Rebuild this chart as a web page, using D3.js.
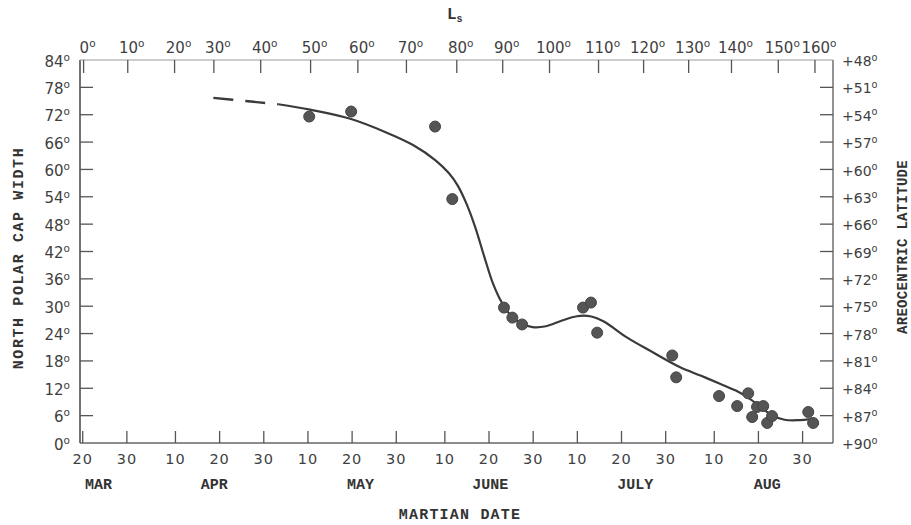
<!DOCTYPE html>
<html>
<head>
<meta charset="utf-8">
<script src="https://cdn.jsdelivr.net/npm/d3@7"></script>
<style>
  body { margin: 0; background: #fff; }
  .num { font-family: "DejaVu Sans", sans-serif; fill: #3f3f3f; }
  .type { font-family: "Liberation Mono", "Courier New", monospace; fill: #333; }
</style>
</head>
<body>
<svg id="chart" width="911" height="525"></svg>
<script>
// Martian date axis: day count after MAR 20
var dateLabels = ['20','30','10','20','30','10','20','30','10','20','30','10','20','30','10','20','30'];
var dateDays   = [0, 10, 21, 31, 41, 51, 61, 71, 82, 92, 102, 112, 122, 132, 143, 153, 163];
var monthLabels = ['MAR', 'APR', 'MAY', 'JUNE', 'JULY', 'AUG'];
var monthDays   = [3.7, 29.9, 63.0, 92.4, 125.2, 155.1];

// Ls (top axis) and the date each tick falls on
var lsLabels = ['0','10','20','30','40','50','60','70','80','90','100','110','120','130','140','150','160'];
var lsDays   = [0.2, 10.2, 20.8, 29.7, 40.3, 51.6, 62.3, 73.3, 84.7, 95.1, 105.7, 116.8, 127.0, 137.2, 146.9, 157.5, 165.8];

// left: cap width, right: areocentric latitude
var widthTicks = [0, 6, 12, 18, 24, 30, 36, 42, 48, 54, 60, 66, 72, 78, 84];
var latTicks   = [90, 87, 84, 81, 78, 75, 72, 69, 66, 63, 60, 57, 54, 51, 48];

// observed cap widths
var obsDay   = [51.4, 60.9, 79.9, 83.8, 95.5, 97.4, 99.6, 113.4, 115.2, 116.6, 133.6, 134.5,
                144.2, 148.3, 150.8, 151.7, 152.8, 154.2, 155.1, 156.2, 164.4, 165.5];
var obsWidth = [71.6, 72.7, 69.4, 53.5, 29.7, 27.5, 26.0, 29.7, 30.8, 24.2, 19.2, 14.4,
                10.3, 8.1, 10.9, 5.7, 7.9, 8.1, 4.4, 5.9, 6.8, 4.4];

// fitted curve (dashed start, then solid)
var dashDay   = [29.7, 37.0, 44.4];
var dashWidth = [75.7, 75.0, 74.3];
var curveDay   = [44.4, 51.6, 60.7, 69.1, 75.0, 80.0, 83.0, 85.0, 87.0, 89.0, 91.0, 93.0, 95.0,
                  97.0, 99.5, 102.0, 105.0, 108.5, 112.0, 115.0, 118.0, 123.4, 129.0, 135.4,
                  140.0, 144.4, 148.0, 151.0, 154.0, 156.5, 159.0, 162.0, 165.5];
var curveWidth = [74.3, 73.1, 71.1, 68.0, 65.3, 62.0, 59.2, 56.5, 52.5, 47.3, 41.0, 35.0, 30.8,
                  28.0, 26.2, 25.4, 25.6, 26.8, 27.8, 27.8, 26.7, 23.1, 20.0, 16.6,
                  14.8, 13.0, 11.5, 9.8, 7.6, 5.9, 5.1, 5.0, 5.3];

var svg = d3.select('#chart');

var LEFT = 80, RIGHT = 833, TOP = 60, BOTTOM = 443;

var x = d3.scaleLinear().domain([-0.5, 170]).range([LEFT, RIGHT]);
var y = d3.scaleLinear().domain([0, 84]).range([BOTTOM, TOP]);
var lat = d3.scaleLinear().domain([90, 48]).range([BOTTOM, TOP]);

function addDegree(sel, prefix) {
    sel.each(function () {
        var t = d3.select(this), s = t.text();
        t.text((prefix || '') + s);
        t.append('tspan')
            .attr('font-size', '0.7em')
            .attr('dy', '-0.55em')
            .text('o');
    });
}

// frame
svg.append('line').attr('x1', LEFT).attr('x2', LEFT).attr('y1', TOP).attr('y2', BOTTOM)
    .attr('stroke', '#505050').attr('stroke-width', 1.6);
svg.append('line').attr('x1', RIGHT).attr('x2', RIGHT).attr('y1', TOP).attr('y2', BOTTOM)
    .attr('stroke', '#666').attr('stroke-width', 1.4);
svg.append('line').attr('x1', LEFT).attr('x2', RIGHT).attr('y1', BOTTOM).attr('y2', BOTTOM)
    .attr('stroke', '#666').attr('stroke-width', 1.4);
svg.append('line').attr('x1', LEFT).attr('x2', RIGHT).attr('y1', TOP).attr('y2', TOP)
    .attr('stroke', '#9a9a9a').attr('stroke-width', 1.2);

// left axis
var leftG = svg.append('g')
    .attr('transform', 'translate(' + LEFT + ',0)')
    .call(d3.axisLeft(y).tickValues(widthTicks).tickSize(0).tickPadding(10));
leftG.select('.domain').remove();
leftG.selectAll('text').attr('class', 'num').attr('font-size', 15).attr('dy', '0.4em');
addDegree(leftG.selectAll('text'));
svg.append('g').selectAll('line')
    .data(widthTicks.slice(1, -1))
    .enter().append('line')
    .attr('x1', LEFT).attr('x2', LEFT + 13)
    .attr('y1', function (d) { return y(d); })
    .attr('y2', function (d) { return y(d); })
    .attr('stroke', '#555').attr('stroke-width', 1.3);

// right axis
var rightG = svg.append('g')
    .attr('transform', 'translate(' + RIGHT + ',0)')
    .call(d3.axisRight(lat).tickValues(latTicks).tickSize(0).tickPadding(9));
rightG.select('.domain').remove();
rightG.selectAll('text').attr('class', 'num').attr('font-size', 14).attr('dy', '0.4em');
addDegree(rightG.selectAll('text'), '+');
svg.append('g').selectAll('line')
    .data(latTicks.slice(1, -1))
    .enter().append('line')
    .attr('x1', RIGHT - 13).attr('x2', RIGHT)
    .attr('y1', function (d) { return lat(d); })
    .attr('y2', function (d) { return lat(d); })
    .attr('stroke', '#555').attr('stroke-width', 1.3);

// top axis (Ls)
var topG = svg.append('g')
    .attr('transform', 'translate(0,' + TOP + ')')
    .call(d3.axisTop(x).tickValues(lsDays).tickSize(-13).tickPadding(7)
        .tickFormat(function (d, i) { return lsLabels[i]; }));
topG.select('.domain').remove();
topG.selectAll('line').attr('stroke', '#555').attr('stroke-width', 1.3);
topG.selectAll('text').attr('class', 'num').attr('font-size', 15).attr('x', 4);
addDegree(topG.selectAll('text'));

svg.append('text').attr('class', 'type')
    .attr('x', 447).attr('y', 19).attr('font-size', 16).attr('font-weight', 'bold')
    .text('L')
    .append('tspan').attr('font-size', 10).attr('dy', 3).text('s');

// bottom axis (Martian date)
var bottomG = svg.append('g')
    .attr('transform', 'translate(0,' + BOTTOM + ')')
    .call(d3.axisBottom(x).tickValues(dateDays).tickSize(-12).tickPadding(11)
        .tickFormat(function (d, i) { return dateLabels[i]; }));
bottomG.select('.domain').remove();
bottomG.selectAll('line').attr('stroke', '#555').attr('stroke-width', 1.3);
bottomG.selectAll('text').attr('class', 'num').attr('font-size', 14.5).attr('letter-spacing', 1);

svg.append('g').selectAll('text')
    .data(monthLabels)
    .enter().append('text')
    .attr('class', 'type')
    .attr('x', function (d, i) { return x(monthDays[i]); })
    .attr('y', 489)
    .attr('text-anchor', 'middle')
    .attr('font-size', 15)
    .attr('font-weight', 'bold')
    .text(function (d) { return d; });

svg.append('text').attr('class', 'type')
    .attr('x', 460).attr('y', 519)
    .attr('text-anchor', 'middle')
    .attr('font-size', 15).attr('font-weight', 'bold').attr('letter-spacing', 1.2)
    .text('MARTIAN DATE');

svg.append('text').attr('class', 'type')
    .attr('transform', 'translate(23,258) rotate(-90)')
    .attr('text-anchor', 'middle')
    .attr('font-size', 15).attr('font-weight', 'bold').attr('letter-spacing', 1.6)
    .text('NORTH POLAR CAP WIDTH');

svg.append('text').attr('class', 'type')
    .attr('transform', 'translate(907,247) rotate(-90)')
    .attr('text-anchor', 'middle')
    .attr('font-size', 14).attr('font-weight', 'bold').attr('letter-spacing', 0.3)
    .text('AREOCENTRIC LATITUDE');

// curve
var line = d3.line()
    .x(function (d) { return x(d[0]); })
    .y(function (d) { return y(d[1]); })
    .curve(d3.curveCatmullRom.alpha(0.5));

svg.append('path')
    .datum(dashDay.map(function (d, i) { return [d, dashWidth[i]]; }))
    .attr('d', line)
    .attr('fill', 'none').attr('stroke', '#3a3a3a').attr('stroke-width', 2.4)
    .attr('stroke-dasharray', '20,12');

svg.append('path')
    .datum(curveDay.map(function (d, i) { return [d, curveWidth[i]]; }))
    .attr('d', line)
    .attr('fill', 'none').attr('stroke', '#3a3a3a').attr('stroke-width', 2.2);

// observations
svg.append('g').selectAll('circle')
    .data(obsDay.map(function (d, i) { return [d, obsWidth[i]]; }))
    .enter().append('circle')
    .attr('cx', function (d) { return x(d[0]); })
    .attr('cy', function (d) { return y(d[1]); })
    .attr('r', 5.5)
    .attr('fill', '#555')
    .attr('stroke', '#444')
    .attr('stroke-width', 1);
</script>
</body>
</html>
